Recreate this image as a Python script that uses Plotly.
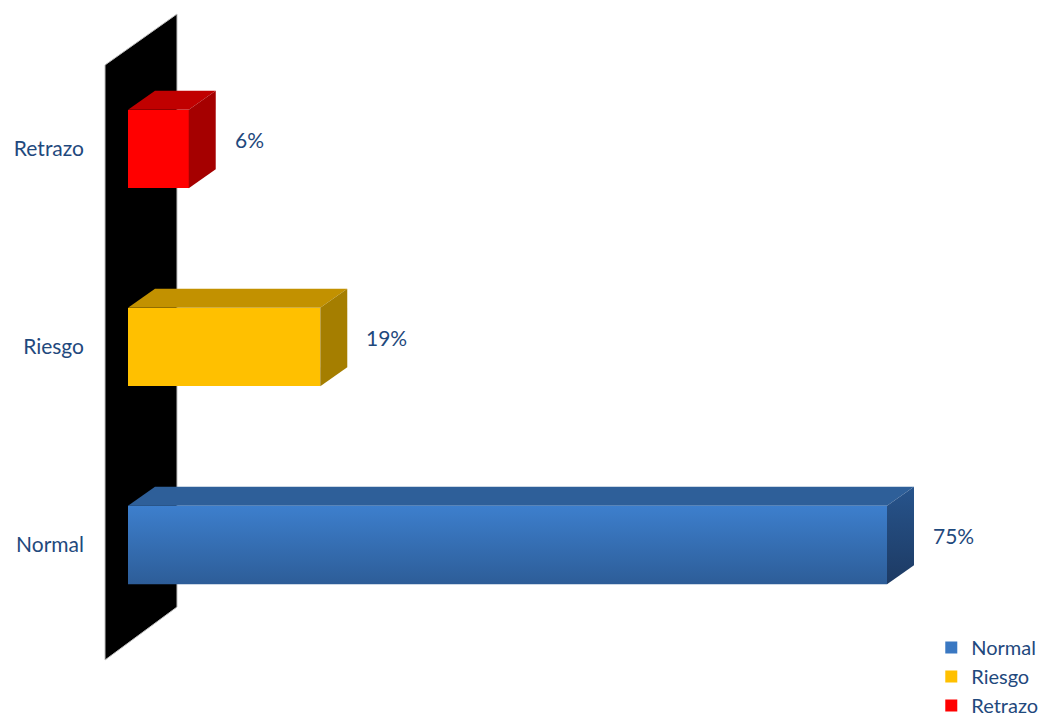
import plotly.graph_objects as go

categories = ["Normal", "Riesgo", "Retrazo"]
values = [75, 19, 6]
labels = ["75%", "19%", "6%"]
front_colors = ["#3A78C2", "#FFC000", "#FF0000"]
top_colors = ["#2E5F99", "#C29100", "#C00000"]
side_colors = ["#24497A", "#A57E00", "#A50000"]
grad_front = [["#3D7FCD", "#2D5D98"], None, None]
grad_side = [["#27548C", "#1D3A63"], None, None]

TEXT = "#1F497D"
FONT = "Lato"
FS = 21

# geometry (layout, not data)
W, H = 1044, 717
ML = 95
px_per_unit = 10.12
x0_px = 128
cat_px = 198.0
y0_px = 545
half = 0.198
dx = 27 / px_per_unit
dy = 19 / cat_px

xr = [(ML - x0_px) / px_per_unit, (W - x0_px) / px_per_unit]
yr = [(y0_px - H) / cat_px, y0_px / cat_px]

fig = go.Figure()
ypos = list(range(len(categories)))

# front faces
for i, (c, v) in enumerate(zip(categories, values)):
    fig.add_trace(go.Bar(
        x=[v], y=[ypos[i]], orientation="h", width=2 * half,
        marker=dict(color=front_colors[i], line=dict(width=0)),
        name=c, showlegend=True, hoverinfo="skip",
    ))

# top and side faces, gradient overlays
for i, v in enumerate(values):
    k = ypos[i]
    top_x = [0, v, v + dx, dx, 0]
    top_y = [k + half, k + half, k + half + dy, k + half + dy, k + half]
    fig.add_trace(go.Scatter(x=top_x, y=top_y, fill="toself", mode="lines",
                             line=dict(width=0), fillcolor=top_colors[i],
                             showlegend=False, hoverinfo="skip"))
    side_x = [v, v, v + dx, v + dx, v]
    side_y = [k - half, k + half, k + half + dy, k - half + dy, k - half]
    sd = dict(fillcolor=side_colors[i])
    if grad_side[i]:
        sd = dict(fillgradient=dict(type="vertical",
                                    colorscale=[[0, grad_side[i][1]], [1, grad_side[i][0]]]))
    fig.add_trace(go.Scatter(x=side_x, y=side_y, fill="toself", mode="lines",
                             line=dict(width=0), showlegend=False,
                             hoverinfo="skip", **sd))
    if grad_front[i]:
        fx = [0, v, v, 0, 0]
        fy = [k - half, k - half, k + half, k + half, k - half]
        fig.add_trace(go.Scatter(x=fx, y=fy, fill="toself", mode="lines",
                                 line=dict(width=0), showlegend=False, hoverinfo="skip",
                                 fillgradient=dict(type="vertical",
                                                   colorscale=[[0, grad_front[i][1]], [1, grad_front[i][0]]])))
    fig.add_annotation(x=v + dx + 17 / px_per_unit, y=k + dy / 2, text=labels[i],
                       showarrow=False, xanchor="left", yanchor="middle",
                       font=dict(family=FONT, size=FS, color=TEXT))

# back wall
wx0, wx1 = (105 - x0_px) / px_per_unit, (177 - x0_px) / px_per_unit
fig.add_shape(type="path",
              path=f"M {wx0},{(y0_px-65)/cat_px} L {wx1},{(y0_px-14)/cat_px} "
                   f"L {wx1},{(y0_px-607)/cat_px} L {wx0},{(y0_px-660)/cat_px} Z",
              xref="x", yref="y", fillcolor="black", line=dict(width=1, color="#BFBFBF"),
              layer="below")

fig.update_layout(
    width=W, height=H, margin=dict(l=ML, r=0, t=0, b=0, autoexpand=False),
    paper_bgcolor="white", plot_bgcolor="white",
    barmode="overlay", bargap=0,
    xaxis=dict(range=xr, visible=False, showgrid=False, zeroline=False),
    yaxis=dict(range=yr, tickvals=ypos, ticktext=categories, showgrid=False,
               zeroline=False, showline=False, ticks="", ticklabelstandoff=10,
               automargin=False,
               tickfont=dict(family=FONT, size=FS, color=TEXT)),
    legend=dict(x=920 / W, y=1 - 628 / H, xanchor="left", yanchor="top",
                font=dict(family=FONT, size=20, color=TEXT), itemwidth=30,
                tracegroupgap=0, bgcolor="rgba(0,0,0,0)", traceorder="normal"),
    showlegend=True,
)

fig.write_html("out.html", config={"displayModeBar": False},
               post_script="document.body.style.margin='0';document.body.style.overflow='hidden';")
